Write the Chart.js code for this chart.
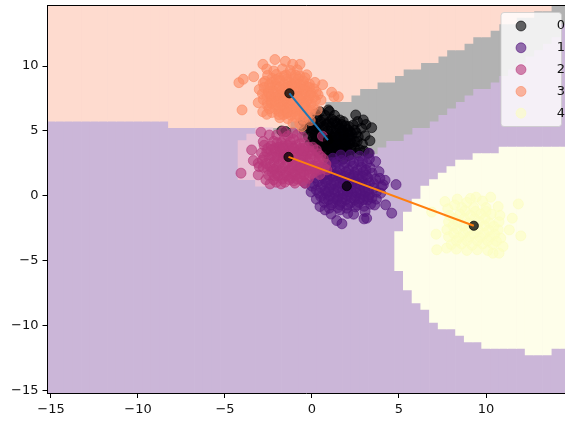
<!DOCTYPE html>
<html>
<head>
<meta charset="utf-8">
<style>
  html, body { margin: 0; padding: 0; background: #fff; }
  canvas { display: block; }
</style>
<script src="https://cdn.jsdelivr.net/npm/chart.js@4/dist/chart.umd.min.js"></script>
</head>
<body>
<canvas id="myChart" width="565" height="421"></canvas>
<script>
const classNames = ['0', '1', '2', '3', '4'];
const tickValues = [-15, -10, -5, 0, 5, 10];

// decision regions, one value per grid column (columns are 0.5 wide)
const orangeStart = -15;
const orangeLow = [5.75, 5.75, 5.75, 5.75, 5.75, 5.75, 5.75, 5.75, 5.75, 5.75, 5.75, 5.75, 5.75, 5.75,
  5.25, 5.25, 5.25, 5.25, 5.25, 5.25, 5.25, 5.25, 5.25, 5.25, 5.25, 5.25, 5.25, 5.25,
  5.75, 5.75, 6.25, 6.75, 7.25, 7.25, 7.25, 7.75, 8.25, 8.25, 8.75, 8.75, 9.25, 9.75, 9.75, 10.25, 10.25,
  10.75, 11.25, 11.25, 11.75, 12.25, 12.25, 12.75, 13.25, 13.25, 13.75, 13.75, 14.25, 14.25];
const greyStart = -2;
const greyLow = [4.75, 4.75, 4.75, 4.25, 3.75, 3.25, 2.25, 2.75, 2.75, 3.25, 3.25, 3.25, 3.75, 4.25, 4.25, 4.75, 5.25,
  5.25, 5.75, 6.25, 6.75, 7.25, 7.75, 8.25, 8.25, 8.75, 9.25, 9.75, 10.25, 10.75, 11.25, 11.75, 12.25, 13.25];
const pinkStart = -4;
const pinkLow = [1.25, 1.25, 0.75, 0.75, 0.75, 0.75, 0.75, 0.75, 1.25, 1.75, 1.75];
const pinkHigh = [4.25, 4.75, 5.25, 5.25, 4.75, 4.75, 4.75, 4.25, 3.75, 3.25, 2.25];
const yellowStart = 5;
const yellowLow = [-5.75, -7.25, -8.25, -8.75, -9.75, -10.25, -10.25, -10.75, -11.25, -11.25, -11.75, -11.75,
  -11.75, -11.75, -11.75, -12.25, -12.25, -12.25, -11.75, -11.75];
const yellowHigh = [-2.75, -1.25, -0.25, 0.75, 1.25, 1.75, 2.25, 2.75, 2.75, 3.25, 3.25, 3.25,
  3.75, 3.75, 3.75, 3.75, 3.75, 3.75, 3.75, 3.75];

// scatter points
const points0 = [[2.51,6.23],[2.95,5.85],[3.43,5.25],[3.33,4.25],[3.05,4.64],[2.66,4.56],[2.37,5.46],[2.85,5.2],[0.94,6.62],[0.46,6.48],
  [1.8,5.72],[2.43,3.72],[2.47,4.18],[3.24,3.28],[-1.74,5.0],[-1.5,4.95],[2.1,5.35],[2.62,5.72],[3.1,5.5],[2.2,4.9],[1.3,6.2],[0.75,6.2],[0.3,6.05],
  [1.15,5.9],[1.6,5.85],[0.05,5.7],[0.5,5.7],[0.95,5.65],[1.45,5.55],[1.9,5.4],[-0.3,5.4],[0.2,5.3],[0.65,5.35],[1.1,5.3],[1.6,5.2],[2.05,5.1],
  [-0.45,5.05],[0.0,4.95],[0.45,4.9],[0.9,5.0],[1.35,4.85],[1.8,4.9],[2.3,4.75],[-0.2,4.55],[0.25,4.5],[0.7,4.6],[1.15,4.5],[1.6,4.55],[2.05,4.45],
  [-0.1,4.15],[0.35,4.05],[0.8,4.2],[1.25,4.1],[1.7,4.15],[2.15,4.0],[0.05,3.75],[0.5,3.65],[0.95,3.8],[1.4,3.7],[1.85,3.75],[2.25,3.55],[0.4,3.3],
  [0.85,3.25],[1.3,3.35],[1.75,3.25],[2.1,3.1],[0.9,2.9],[1.35,2.85],[1.8,2.85],[0.6,5.1],[1.0,4.75],[1.4,5.1],[1.85,4.6],[0.15,4.75],[0.55,4.3],
  [1.0,4.35],[1.45,4.3],[1.9,4.25],[0.3,3.85],[0.75,3.95],[1.2,3.9],[1.6,3.95],[2.0,3.8],[0.65,3.5],[1.1,3.55],[1.55,3.5],[2.0,3.45],[0.2,5.0],[1.2,5.6],
  [0.7,5.85],[1.7,5.5],[-0.1,5.2],[2.45,5.05],[2.6,4.2],[2.9,4.0],[2.75,3.55],[2.6,3.3],[3.0,3.45],[2.55,4.85],[1.0,6.5],[0.2,6.3],[-0.5,5.75],
  [0.4,5.55],[0.85,5.5],[1.3,5.75],[1.75,5.05],[0.1,5.15],[0.55,4.7],[1.2,4.95],[1.6,4.75],[2.1,4.7],[0.05,4.4],[0.45,4.45],[0.9,4.45],[1.35,4.55],[1.8,4.35],
  [2.2,4.3],[0.2,4.2],[0.6,4.0],[1.0,4.05],[1.45,3.95],[1.9,4.0],[2.3,3.95],[0.55,3.75],[1.15,3.7],[1.7,3.6],[0.85,3.55],[1.4,3.45],[1.9,3.2],[1.15,3.15],[1.55,3.05]];
const points1 = [[4.83,0.87],[4.1,0.85],[4.0,0.72],[4.23,-0.69],[4.58,-1.33],[3.14,-1.72],[2.99,-1.77],[1.42,-1.9],[1.72,-2.15],[2.39,-1.41],
  [3.37,-0.64],[0.75,-1.08],[0.46,-0.82],[1.61,-1.08],[3.66,2.64],[3.85,1.87],[3.29,3.28],[1.65,3.15],[1.13,2.56],[-0.4,0.98],[0.0,0.75],[-0.05,0.3],[0.25,-0.25],
  [3.05,-1.2],[2.05,-1.35],[1.1,-1.4],[3.9,1.35],[3.55,0.95],[4.2,1.2],[3.3,2.85],[2.75,3.05],[2.2,3.15],[3.7,-0.25],[3.95,0.2],[3.6,-0.7],
  [1.2,2.9],[1.7,2.75],[2.2,2.7],[2.7,2.65],[3.15,2.5],[0.85,2.25],[1.35,2.3],[1.85,2.25],[2.35,2.3],[2.85,2.2],[3.35,2.15],[0.45,1.85],[0.95,1.9],
  [1.45,1.8],[1.95,1.85],[2.45,1.8],[2.95,1.85],[3.45,1.75],[0.2,1.4],[0.7,1.35],[1.2,1.45],[1.7,1.35],[2.2,1.4],[2.7,1.3],[3.2,1.4],[3.65,1.3],
  [0.1,0.95],[0.6,0.9],[1.1,0.85],[1.6,0.95],[2.1,0.85],[2.6,0.95],[3.1,0.85],[3.55,0.6],[0.25,0.45],[0.75,0.4],[1.25,0.5],[1.75,0.4],[2.25,0.5],[2.75,0.4],
  [3.25,0.45],[3.7,0.3],[0.5,-0.05],[1.0,0.0],[1.5,-0.1],[2.0,0.05],[2.5,-0.05],[3.0,0.0],[3.45,-0.15],[0.7,-0.5],[1.2,-0.55],[1.7,-0.5],[2.2,-0.55],[2.7,-0.5],
  [3.2,-0.3],[1.0,-0.95],[1.5,-0.9],[2.0,-0.95],[2.5,-0.85],[3.0,-0.8],[0.9,1.2],[1.4,1.1],[1.9,1.15],[2.4,1.1],[2.9,1.1],[0.5,0.65],[1.0,0.6],[1.5,0.65],[2.0,0.55],
  [2.5,0.6],[3.0,0.6],[0.65,1.6],[1.15,1.65],[1.65,1.6],[2.15,1.6],[2.65,1.55],[3.1,1.6],[1.1,2.1],[1.6,2.05],[2.1,2.0],[2.6,2.0],[3.1,2.0],[0.8,0.2],[1.3,0.2],
  [1.8,0.15],[2.3,0.2],[2.8,0.15],[3.3,0.1],[0.95,-0.3],[1.45,-0.3],[1.95,-0.3],[2.45,-0.3],[2.95,-0.3],[1.9,2.55],[2.4,2.55],[1.4,2.6],[2.9,2.65],[0.55,2.2],
  [0.85,1.65],[1.4,1.55],[1.9,1.5],[2.4,1.55],[2.9,1.5],[0.35,1.1],[0.8,1.05],[1.25,1.0],[1.8,0.9],[2.3,0.95],[2.8,0.8],[3.3,1.0],[0.4,0.2],[0.95,0.3],
  [1.5,0.3],[2.05,0.3],[2.55,0.25],[3.05,0.3],[0.7,-0.2],[1.25,-0.2],[1.75,-0.2],[2.25,-0.15],[2.75,-0.2],[3.25,-0.1],[1.1,-0.7],[1.6,-0.7],[2.05,-0.7],[2.6,-0.7]];
const points2 = [[-2.93,4.9],[-2.45,4.69],[-2.8,4.18],[-3.47,3.54],[-3.37,2.72],[-3.09,2.51],[-4.08,1.75],[-3.09,1.62],[-3.03,2.25],[-2.41,0.92],
  [-1.78,0.92],[-0.98,0.98],[-0.4,0.98],[-2.03,4.69],[-1.65,4.95],[-1.1,4.85],[-0.55,4.55],[0.6,4.6],[-2.75,3.9],[-2.2,4.2],[-1.6,4.4],[-1.05,4.35],[-0.45,4.1],[0.05,3.75],
  [-2.6,3.4],[-2.15,3.65],[-1.65,3.85],[-1.15,3.85],[-0.65,3.65],[-0.15,3.45],[0.35,3.25],[-2.75,3.0],[-2.3,3.1],[-1.85,3.3],[-1.35,3.35],[-0.85,3.3],[-0.35,3.05],
  [0.15,2.95],[0.65,2.85],[-2.65,2.5],[-2.2,2.6],[-1.7,2.8],[-1.2,2.85],[-0.7,2.8],[-0.2,2.6],[0.3,2.5],[0.8,2.45],[-2.55,2.05],[-2.05,2.15],[-1.55,2.3],[-1.05,2.3],
  [-0.55,2.3],[-0.05,2.1],[0.45,2.05],[0.85,2.0],[-2.5,1.6],[-2.0,1.7],[-1.5,1.8],[-1.0,1.85],[-0.5,1.85],[0.0,1.7],[0.45,1.65],[-2.2,1.25],[-1.7,1.3],[-1.2,1.4],
  [-0.7,1.4],[-0.2,1.35],[-2.65,1.25],[-2.35,3.55],[-1.9,3.75],[-1.4,3.9],[-0.9,3.9],[-0.4,3.7],[-2.45,2.85],[-2.0,2.9],[-1.5,3.05],[-1.0,3.1],[-0.5,2.95],[0.0,3.25],
  [-2.4,2.25],[-1.9,2.45],[-1.4,2.55],[-0.9,2.55],[-0.4,2.4],[0.1,2.3],[-2.3,1.85],[-1.8,1.95],[-1.3,2.0],[-0.8,2.05],[-0.3,2.0],[0.2,1.9],[-1.95,1.55],[-1.45,1.55],
  [-0.95,1.6],[-0.45,1.6],[-2.0,4.1],[-1.4,4.6],[-0.85,4.7],[-1.8,3.5],[-1.3,3.65],[-0.75,3.5],[-0.25,3.25],[-2.55,3.65],[-2.1,3.4],[-1.6,3.2],[-1.1,3.4],[-0.6,3.2],[0.25,3.55],
  [-1.55,1.05],[-1.05,1.15],[-0.55,1.15],[-2.05,1.05],[-2.9,3.3],[-2.85,2.75],[-2.8,2.2],[0.7,2.15],[0.5,3.05],
  [-2.35,3.85],[-1.75,4.1],[-1.25,4.15],[-0.7,4.0],[-0.2,3.75],[-1.7,3.65],[-1.05,3.65],[-0.5,3.45],[-2.15,2.95],[-1.65,2.95],[-1.15,2.6],[-0.65,2.55],[-0.1,2.85],[0.4,2.75],
  [-2.2,2.05],[-1.7,2.15],[-1.15,2.15],[-0.65,2.15],[-0.15,2.3],[0.35,2.3],[-2.15,1.55],[-1.6,1.6],[-1.1,1.7],[-0.65,1.7],[-0.15,1.65],[0.2,2.1],[-1.3,1.25],[-0.85,1.3]];
const points3 = [[-2.13,10.5],[-2.82,10.13],[-2.6,9.77],[-1.53,10.36],[-1.11,10.13],[-0.69,10.13],[-3.35,9.18],[-3.95,8.98],[-4.2,8.72],[-4.02,6.62],
  [-0.3,9.33],[0.17,8.74],[0.61,8.56],[1.13,7.98],[1.26,7.64],[1.51,7.64],[0.52,7.38],[-3.09,7.18],[-3.03,8.2],[-2.8,8.69],[-2.83,6.48],[-2.6,6.28],[-0.59,5.33],
  [-2.2,9.62],[-1.7,9.78],[-1.25,9.66],[-0.85,9.71],[-2.55,9.28],[-2.05,9.35],[-1.62,9.22],[-1.2,9.38],[-0.7,9.24],[-2.3,9.05],[-1.0,9.02],
  [-2.7,8.82],[-2.3,8.74],[-1.85,8.86],[-1.4,8.8],[-0.95,8.72],[-0.5,8.85],[-0.15,8.62],[-2.75,8.35],[-2.4,8.28],[-2.0,8.42],[-1.55,8.33],[-1.15,8.46],[-0.7,8.3],[-0.3,8.42],[0.1,8.25],
  [-2.85,7.86],[-2.5,7.95],[-2.1,7.82],[-1.7,7.96],[-1.3,7.85],[-0.9,7.98],[-0.45,7.84],[-0.05,7.95],[0.35,7.8],[-2.8,7.42],[-2.35,7.35],[-1.95,7.5],[-1.5,7.38],[-1.05,7.46],[-0.65,7.34],[-0.2,7.48],[0.2,7.36],
  [-2.55,6.92],[-2.1,7.0],[-1.7,6.86],[-1.3,6.98],[-0.85,6.88],[-0.4,7.0],[0.05,6.85],[0.3,6.6],[-2.3,6.42],[-1.9,6.5],[-1.45,6.36],[-1.0,6.5],[-0.55,6.4],[-0.1,6.3],
  [-1.85,6.02],[-1.4,5.95],[-0.95,6.05],[-0.5,5.92],[-0.1,5.8],[-1.1,5.6],[-0.7,5.55],[-1.9,9.05],[-1.45,9.0],[-0.8,9.0],[-2.1,8.6],[-1.6,8.6],[-1.15,8.6],[-0.7,8.6],[-0.3,8.1],
  [-2.2,8.05],[-1.75,8.15],[-1.3,8.15],[-0.85,8.1],[-2.6,7.65],[-2.15,7.6],[-1.7,7.65],[-1.25,7.6],[-0.8,7.65],[-0.35,7.6],[0.1,7.6],[-2.35,7.15],[-1.85,7.2],[-1.4,7.2],[-0.95,7.2],[-0.5,7.15],
  [-0.05,7.15],[-2.1,6.7],[-1.6,6.65],[-1.15,6.7],[-0.7,6.65],[-0.25,6.6],[-1.65,6.25],[-1.2,6.2],[-0.75,6.2],[-0.3,6.05],[-2.5,8.05],[-2.45,6.7],[0.25,8.0],
  [-2.45,8.55],[-2.05,8.95],[-1.5,9.3],[-0.95,9.3],[-0.4,9.1],[-0.5,8.55],[-0.15,8.35],[-1.85,8.35],[-1.35,8.4],[-0.95,8.35],[-0.5,8.2],[-2.35,7.7],[-1.9,7.75],[-1.5,7.7],[-1.05,7.75],[-0.6,7.7],
  [-0.1,7.75],[-2.55,7.15],[-2.1,7.25],[-1.65,7.25],[-1.2,7.35],[-0.75,7.45],[-0.3,7.3],[-1.85,6.8],[-1.45,6.75],[-0.95,6.7],[-0.5,6.8],[-0.05,6.6],[-1.9,6.25],[-1.4,6.45],[-0.9,6.3],[-0.45,6.2]];
const points4 = [[11.86,-0.62],[11.51,-1.72],[12.0,-3.08],[11.34,-2.62],[10.27,-0.1],[9.43,-0.1],[8.35,-0.25],[7.64,-0.44],[6.88,-1.25],[7.13,-2.95],
  [7.17,-4.15],[7.74,-4.02],[10.4,-4.41],[10.98,-3.9],[10.75,-4.41],[10.7,-0.82],[9.1,-0.2],[8.9,-0.5],[9.8,-0.4],[8.2,-0.7],[7.8,-1.0],[8.6,-0.9],[9.3,-0.9],[10.0,-0.9],
  [7.9,-1.5],[8.5,-1.4],[9.1,-1.5],[9.7,-1.4],[10.3,-1.4],[10.8,-1.5],[7.85,-2.0],[8.4,-2.0],[9.0,-2.1],[9.6,-2.0],[10.2,-2.1],[10.75,-2.0],[7.75,-2.6],[8.35,-2.55],[8.95,-2.65],
  [9.55,-2.6],[10.15,-2.65],[10.7,-2.6],[7.85,-3.15],[8.45,-3.2],[9.05,-3.15],[9.65,-3.2],[10.25,-3.15],[10.85,-3.25],[8.0,-3.75],[8.6,-3.7],[9.2,-3.8],[9.8,-3.7],[10.4,-3.75],[8.9,-4.2],
  [9.5,-4.15],[8.3,-4.1],[10.1,-4.2],[8.8,-1.15],[9.4,-1.2],[10.0,-1.2],[8.15,-1.75],[8.75,-1.75],[9.35,-1.75],[9.95,-1.75],[8.1,-2.3],[8.7,-2.3],[9.3,-2.35],[9.9,-2.3],[10.45,-2.35],
  [8.15,-2.9],[8.7,-2.9],[9.3,-2.9],[9.9,-2.9],[10.5,-2.95],[8.3,-3.45],[8.9,-3.45],[9.5,-3.45],[10.1,-3.45],[10.6,-3.5]];

const centroidX = [0.92, 2.0, -1.35, -1.3, 9.3];
const centroidY = [4.3, 0.75, 3.0, 7.9, -2.3];

const pointColors = ['rgba(0,0,4,0.6)', 'rgba(81,18,124,0.6)', 'rgba(183,55,121,0.6)', 'rgba(252,137,97,0.6)', 'rgba(252,253,191,0.6)'];
const clusters = [points0, points1, points2, points3, points4];

const columnDataset = (color, order, data) => ({
  type: 'bar',
  data,
  backgroundColor: color,
  barPercentage: 1,
  categoryPercentage: 1,
  grouped: false,
  order,
});

const purpleCols = [];
for (let x = -15; x <= 14.5; x += 0.5) purpleCols.push({ x, y: [-15.5, 15] });

const lineDataset = (color, from, to) => ({
  showLine: true,
  data: [from, to].map((i) => ({ x: centroidX[i], y: centroidY[i] })),
  borderColor: color,
  borderWidth: 2,
  pointRadius: 0,
  order: 1,
});

const minusTick = (value) => String(value).replace('-', '\u2212');

const axis = (min, max, fitSide, fitSize) => ({
  type: 'linear',
  min,
  max,
  bounds: 'data',
  offset: false,
  grid: { offset: false, drawOnChartArea: false, tickLength: 5, tickColor: '#000' },
  border: { color: '#000', z: 1 },
  afterBuildTicks: (scale) => { scale.ticks = tickValues.map((value) => ({ value })); },
  afterFit: (scale) => {
    scale[fitSide] = fitSize;
    scale.paddingLeft = scale.paddingRight = scale.paddingTop = scale.paddingBottom = 0;
  },
  ticks: {
    autoSkip: false,
    maxRotation: 0,
    color: '#111',
    padding: 4,
    font: { family: 'DejaVu Sans', size: 13 },
    callback: minusTick,
  },
});

const frame = {
  id: 'frame',
  afterLayout(chart) {
    Object.assign(chart.legend, { left: 505.7, top: 10.7, width: 50.3, height: 120 });
  },
  afterDraw(chart) {
    const { ctx, chartArea } = chart;
    ctx.save();
    ctx.strokeStyle = '#000';
    ctx.lineWidth = 1;
    ctx.beginPath();
    ctx.moveTo(chartArea.left, chartArea.top + 0.5);
    ctx.lineTo(chartArea.right, chartArea.top + 0.5);
    ctx.stroke();
    // matplotlib style legend box, it has to sit over the datasets
    ctx.beginPath();
    ctx.roundRect(501, 12.5, 60.5, 114, 3);
    ctx.fillStyle = 'rgba(255,255,255,0.8)';
    ctx.fill();
    ctx.strokeStyle = 'rgba(204,204,204,0.8)';
    ctx.stroke();
    ctx.restore();
    chart.legend.draw();
  },
};

new Chart(document.getElementById('myChart'), {
  type: 'scatter',
  plugins: [frame],
  data: {
    datasets: [
      ...clusters.map((points, i) => ({
        label: classNames[i],
        data: points.map(([x, y]) => ({ x, y })),
        backgroundColor: pointColors[i],
        borderColor: pointColors[i],
        borderWidth: 1,
        pointRadius: 5,
        order: 10 - i,
      })),
      {
        data: centroidX.map((x, i) => ({ x, y: centroidY[i] })),
        backgroundColor: 'rgba(0,0,0,0.75)',
        borderColor: 'rgba(0,0,0,0.75)',
        pointRadius: 4.6,
        order: 2,
      },
      lineDataset('#1f77b4', 3, 0),
      lineDataset('#ff7f0e', 2, 4),
      columnDataset('#cbb6d8', 23, purpleCols),
      columnDataset('#b2b2b2', 22, greyLow.map((low, i) => ({ x: greyStart + i * 0.5, y: [low, 15] }))),
      columnDataset('#fedbcf', 21, orangeLow.map((low, i) => ({ x: orangeStart + i * 0.5, y: [low, 15] }))),
      columnDataset('#e9c3d7', 20, pinkLow.map((low, i) => ({ x: pinkStart + i * 0.5, y: [low, pinkHigh[i]] }))),
      columnDataset('#fefeea', 20, yellowLow.map((low, i) => ({ x: yellowStart + i * 0.5, y: [low, yellowHigh[i]] }))),
    ],
  },
  options: {
    responsive: false,
    animation: false,
    layout: { autoPadding: false, padding: { top: 5 } },
    plugins: {
      tooltip: { enabled: false },
      legend: {
        position: 'chartArea',
        align: 'start',
        labels: {
          usePointStyle: true,
          boxHeight: 7,
          padding: 8.8,
          textAlign: 'right',
          color: '#111',
          font: { family: 'DejaVu Sans', size: 13 },
          filter: (item) => item.text !== undefined,
          sort: (a, b) => a.datasetIndex - b.datasetIndex,
        },
      },
    },
    scales: {
      x: axis(-15.2, 14.54, 'height', 28),
      y: axis(-15.18, 14.7, 'width', 47.5),
    },
  },
});
</script>
</body>
</html>
